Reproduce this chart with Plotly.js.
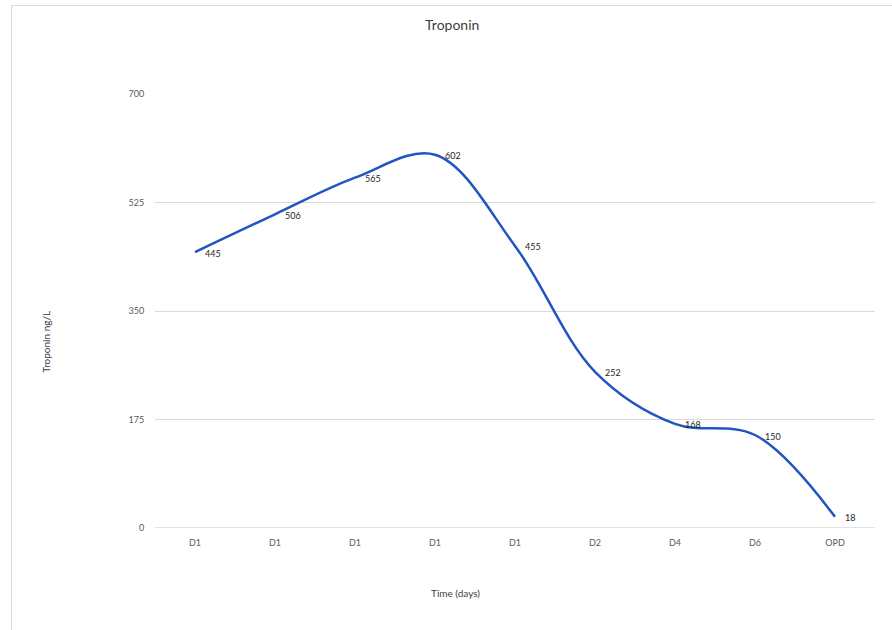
<!DOCTYPE html>
<html>
<head>
<meta charset="utf-8">
<script src="https://cdn.plot.ly/plotly-3.0.1.min.js"></script>
<style>
  html, body { margin: 0; padding: 0; background: #fff; }
  #wrap { position: relative; width: 892px; height: 630px; }
  #chart { position: absolute; left: 0; top: 0; width: 892px; height: 630px; }
  #frame { position: absolute; left: 11px; top: 5px; width: 890px; height: 640px;
           border-left: 1.5px solid #d9d9d9; border-top: 1.5px solid #d9d9d9; pointer-events: none; }
</style>
</head>
<body>
<div id="wrap">
  <div id="chart"></div>
  <div id="frame"></div>
</div>
<script>
const categories = ["D1", "D1", "D1", "D1", "D1", "D2", "D4", "D6", "OPD"];
const troponin = [445, 506, 565, 602, 455, 252, 168, 150, 18];
const yTicks = [0, 175, 350, 525, 700];

const xIdx = categories.map((_, i) => i);
const font = "Lato, 'Open Sans', sans-serif";

const trace = {
  x: xIdx,
  y: troponin,
  type: "scatter",
  mode: "lines",
  line: { color: "#2155C0", width: 2.5, shape: "spline", smoothing: 1 },
  hoverinfo: "skip"
};

const labelAnnots = troponin.map((v, i) => ({
  x: xIdx[i], y: v, xref: "x", yref: "y",
  text: String(v), showarrow: false,
  xanchor: "left", yanchor: "middle", xshift: 8, yshift: -1,
  font: { family: font, size: 9, color: "#262626" }
}));

const titleAnnots = [
  { text: "Time (days)", xref: "paper", yref: "paper", x: 0.418, y: -0.149,
    xanchor: "center", yanchor: "middle", showarrow: false,
    font: { family: font, size: 10, color: "#404040" } },
  { text: "Troponin ng/L", xref: "paper", yref: "paper", x: -0.151, y: 0.43,
    xanchor: "center", yanchor: "middle", textangle: -90, showarrow: false,
    font: { family: font, size: 10, color: "#404040" } }
];

const layout = {
  width: 892, height: 630,
  margin: { l: 155, r: 17, t: 94, b: 102 },
  paper_bgcolor: "#ffffff",
  plot_bgcolor: "#ffffff",
  showlegend: false,
  font: { family: font, color: "#595959" },
  title: { text: "Troponin", x: 0.507, xanchor: "center", y: 0.96, yanchor: "middle",
           font: { family: font, size: 14, color: "#404040" } },
  xaxis: {
    range: [-0.5, 8.5],
    tickmode: "array", tickvals: xIdx, ticktext: categories,
    tickfont: { family: font, size: 9, color: "#595959" },
    showgrid: false, zeroline: false, showline: false,
    ticks: "outside", ticklen: 6, tickcolor: "rgba(0,0,0,0)",
    fixedrange: true
  },
  yaxis: {
    range: [0, 700],
    tickmode: "array", tickvals: yTicks, ticktext: yTicks.map(String),
    tickfont: { family: font, size: 9, color: "#595959" },
    showgrid: true, gridcolor: "#d9d9d9", gridwidth: 1,
    zeroline: false, showline: false,
    ticks: "outside", ticklen: 8, tickcolor: "rgba(0,0,0,0)",
    fixedrange: true
  },
  annotations: labelAnnots.concat(titleAnnots),
  shapes: [{
    type: "line", xref: "paper", yref: "y", x0: 0, x1: 1, y0: 0, y1: 0,
    line: { color: "#d9d9d9", width: 1.5 }, layer: "below"
  }]
};

Plotly.newPlot("chart", [trace], layout, { displayModeBar: false, staticPlot: true });
</script>
</body>
</html>
